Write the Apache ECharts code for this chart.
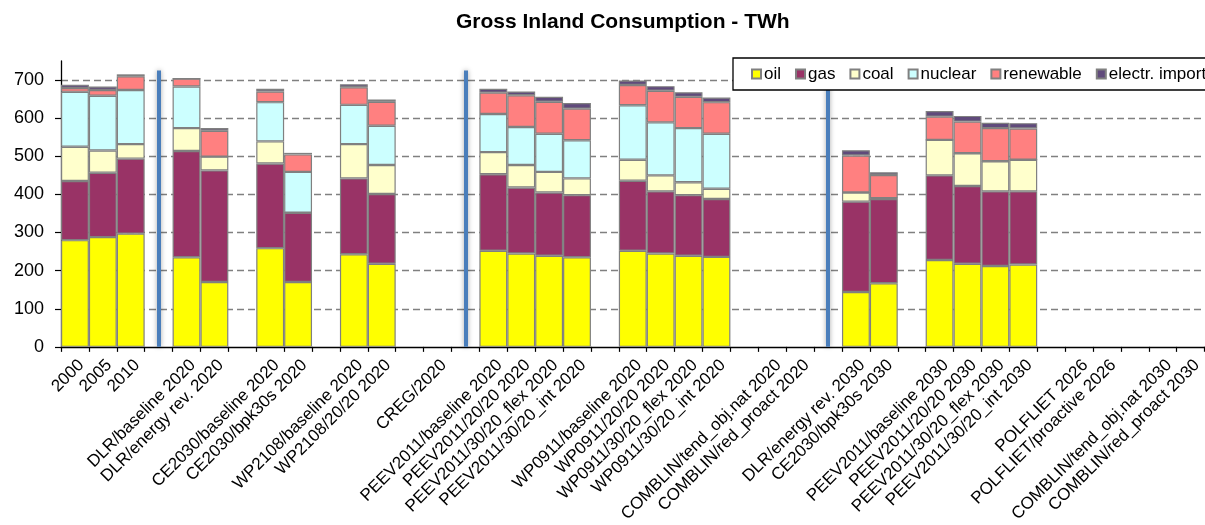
<!DOCTYPE html>
<html>
<head>
<meta charset="utf-8">
<title>Gross Inland Consumption - TWh</title>
<script src="https://cdn.jsdelivr.net/npm/echarts@6/dist/echarts.min.js"></script>
<style>
  html, body { margin: 0; padding: 0; background: #ffffff; }
  #chart { width: 1205px; height: 525px; }
</style>
</head>
<body>
<div id="chart"></div>
<script>
// Scenario slots; empty strings are spacer slots between study groups.
const categories = [
  '2000', '2005', '2010', '',
  'DLR/baseline 2020', 'DLR/energy rev. 2020', '',
  'CE2030/baseline 2020', 'CE2030/bpk30s 2020', '',
  'WP2108/baseline 2020', 'WP2108/20/20 2020', '',
  'CREG/2020', '',
  'PEEV2011/baseline 2020', 'PEEV2011/20/20 2020', 'PEEV2011/30/20_flex 2020', 'PEEV2011/30/20_int 2020', '',
  'WP0911/baseline 2020', 'WP0911/20/20 2020', 'WP0911/30/20_flex 2020', 'WP0911/30/20_int 2020', '',
  'COMBLIN/tend_obj.nat 2020', 'COMBLIN/red_proact 2020', '',
  'DLR/energy rev. 2030', 'CE2030/bpk30s 2030', '',
  'PEEV2011/baseline 2030', 'PEEV2011/20/20 2030', 'PEEV2011/30/20_flex 2030', 'PEEV2011/30/20_int 2030', '',
  'POLFLIET 2026', 'POLFLIET/proactive 2026', '',
  'COMBLIN/tend_obj.nat 2030', 'COMBLIN/red_proact 2030'
];

// Energy carriers, TWh (null = no data for that slot)
const oil = [280, 288, 297, null, 235, 170, null, 259, 170, null, 243, 218, null, null, null,
  252, 245, 239, 235, null, 252, 245, 239, 236, null, null, null, null,
  144, 167, null, 228, 218, 212, 216, null, null, null, null, null, null];
const gas = [155, 169, 197, null, 279, 293, null, 222, 182, null, 199, 183, null, null, null,
  201, 173, 166, 163, null, 184, 163, 159, 152, null, null, null, null,
  237, 221, null, 222, 204, 196, 192, null, null, null, null, null, null];
const coal = [90, 58, 38, null, 60, 36, null, 58, 0, null, 90, 76, null, null, null,
  58, 59, 54, 44, null, 55, 42, 34, 27, null, null, null, null,
  24, 2, null, 93, 86, 79, 83, null, null, null, null, null, null];
const nuclear = [144, 144, 142, null, 109, 0, null, 103, 107, null, 103, 103, null, null, null,
  100, 100, 100, 100, null, 143, 139, 142, 144, null, null, null, null,
  0, 0, null, 0, 0, 0, 0, null, null, null, null, null, null];
const renewable = [10, 15, 36, null, 21, 68, null, 28, 46, null, 46, 63, null, null, null,
  56, 83, 84, 83, null, 53, 83, 82, 83, null, null, null, null,
  97, 61, null, 61, 83, 87, 82, null, null, null, null, null, null];
const electrImport = [9, 9, 5, null, 0, 7, null, 7, 4, null, 8, 6, null, null, null,
  10, 10, 13, 15, null, 12, 12, 12, 12, null, null, null, null,
  14, 7, null, 15, 15, 14, 14, null, null, null, null, null, null];

// Spacer slots that carry a vertical separator line
const separatorSlots = [3, 14, 27];
const separatorTop = 725;

const yTicks = [0, 100, 200, 300, 400, 500, 600, 700];

const FONT = "'Liberation Sans', Arial, Helvetica, sans-serif";

const seriesDefs = [
  { name: 'oil', data: oil, color: '#ffff00' },
  { name: 'gas', data: gas, color: '#993366' },
  { name: 'coal', data: coal, color: '#ffffcc' },
  { name: 'nuclear', data: nuclear, color: '#ccffff' },
  { name: 'renewable', data: renewable, color: '#ff8080' },
  { name: 'electr. import', data: electrImport, color: '#604a7b' }
];

const series = seriesDefs.map(function (s, idx) {
  const item = {
    name: s.name,
    type: 'bar',
    stack: 'total',
    barCategoryGap: '0%',
    data: s.data,
    itemStyle: { color: s.color, borderColor: '#808080', borderWidth: 1.2 },
    emphasis: { disabled: true }
  };
  if (idx === seriesDefs.length - 1) {
    item.markLine = {
      silent: true,
      symbol: ['none', 'none'],
      label: { show: false },
      lineStyle: {
        color: '#4a7ebb', width: 4, type: 'solid',
        shadowBlur: 5, shadowColor: 'rgba(0,0,0,0.35)'
      },
      data: separatorSlots.map(function (i) {
        return [{ coord: [i, 0] }, { coord: [i, separatorTop] }];
      })
    };
  }
  return item;
});

const chart = echarts.init(document.getElementById('chart'), null, { renderer: 'canvas' });
chart.setOption({
  animation: false,
  backgroundColor: '#ffffff',
  textStyle: { fontFamily: FONT },
  title: {
    text: 'Gross Inland Consumption - TWh',
    left: 456,
    top: 12,
    padding: 0,
    textStyle: { fontFamily: FONT, fontSize: 21, fontWeight: 'bold', color: '#000' }
  },
  legend: {
    orient: 'horizontal',
    zlevel: 1,
    z: 50,
    left: 733,
    top: 58,
    width: 600,
    padding: [6, 60, 6, 18],
    backgroundColor: '#ffffff',
    borderColor: '#000000',
    borderWidth: 1.3,
    itemWidth: 9,
    itemHeight: 9,
    itemGap: 14,
    icon: 'rect',
    selectedMode: false,
    textStyle: { fontFamily: FONT, fontSize: 17, color: '#000', lineHeight: 20, padding: [0, 0, 0, -2] },
    data: seriesDefs.map(function (s) { return s.name; })
  },
  grid: { left: 61, right: -9, top: 61, bottom: 169.3, containLabel: false },
  xAxis: {
    type: 'category',
    data: categories,
    boundaryGap: true,
    axisLine: { lineStyle: { color: '#000', width: 1.3 } },
    axisTick: { show: true, interval: 0, length: 5, lineStyle: { color: '#000', width: 1.2 } },
    axisLabel: {
      interval: 0,
      rotate: 45,
      margin: 22,
      padding: [0, -9, 0, 0],
      fontFamily: FONT,
      fontSize: 17,
      color: '#000'
    },
    splitLine: { show: false }
  },
  yAxis: {
    type: 'value',
    min: 0,
    max: 750,
    interval: 100,
    axisLine: { show: true, lineStyle: { color: '#000', width: 1.3 } },
    axisTick: { show: true, length: 6, customValues: yTicks, lineStyle: { color: '#000', width: 1.2 } },
    axisLabel: { customValues: yTicks, margin: 17, fontFamily: FONT, fontSize: 18, color: '#000' },
    splitLine: {
      show: true,
      lineStyle: {
        color: ['transparent', '#808080', '#808080', '#808080', '#808080', '#808080', '#808080', '#808080', 'transparent'],
        width: 1.3,
        type: [7, 4]
      }
    }
  },
  series: series
});
</script>
</body>
</html>
